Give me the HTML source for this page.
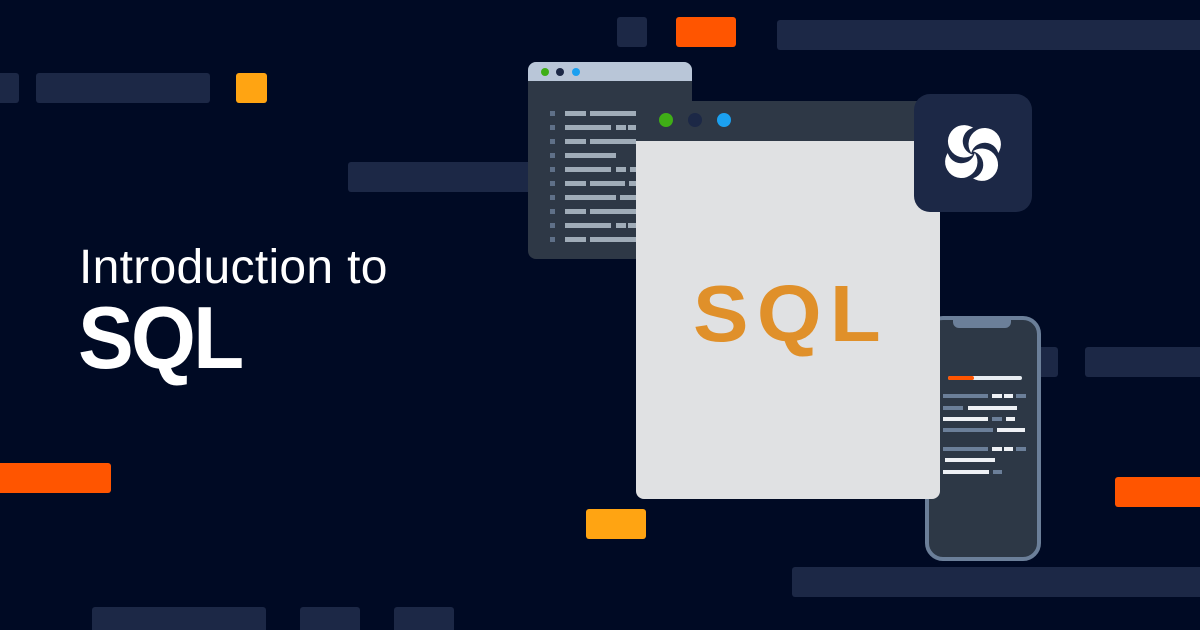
<!DOCTYPE html>
<html><head><meta charset="utf-8"><style>
*{margin:0;padding:0;box-sizing:border-box}
html,body{width:1200px;height:630px;overflow:hidden}
body{background:#000a24;position:relative;font-family:"Liberation Sans",sans-serif}
.b{position:absolute;border-radius:3px;background:#1c2846}
.o{background:#ff5500}.a{background:#ffa412}
.abs{position:absolute}
</style></head><body>
<div class="b" style="left:617px;top:17px;width:30px;height:30px"></div>
<div class="b o" style="left:676px;top:17px;width:60px;height:30px"></div>
<div class="b" style="left:777px;top:20px;width:430px;height:30px"></div>
<div class="b" style="left:-5px;top:73px;width:24px;height:30px"></div>
<div class="b" style="left:36px;top:73px;width:174px;height:30px"></div>
<div class="b a" style="left:236px;top:73px;width:31px;height:30px"></div>
<div class="b" style="left:348px;top:162px;width:190px;height:30px"></div>
<div class="b o" style="left:-5px;top:463px;width:116px;height:30px"></div>
<div class="b a" style="left:586px;top:509px;width:60px;height:30px"></div>
<div class="b" style="left:1030px;top:347px;width:28px;height:30px"></div>
<div class="b" style="left:1085px;top:347px;width:120px;height:30px"></div>
<div class="b o" style="left:1115px;top:477px;width:90px;height:30px"></div>
<div class="b" style="left:792px;top:567px;width:415px;height:30px"></div>
<div class="b" style="left:92px;top:607px;width:174px;height:30px"></div>
<div class="b" style="left:300px;top:607px;width:60px;height:30px"></div>
<div class="b" style="left:394px;top:607px;width:60px;height:30px"></div>

<div class="abs" style="left:79px;top:239px;color:#fff;font-size:48px;letter-spacing:0.3px;line-height:1.2">Introduction to</div>
<div class="abs" style="left:78px;top:294px;color:#fff;font-size:88px;font-weight:bold;letter-spacing:-3px;line-height:1;transform:scaleX(0.95);transform-origin:left">SQL</div>

<!-- code window -->
<div class="abs" style="left:528px;top:62px;width:164px;height:197px;background:#2e3846;border-radius:8px;overflow:hidden">
 <div style="height:19px;background:#b9c6d8"></div>
 <svg class="abs" style="left:0;top:0" width="164" height="197">
  <circle cx="17" cy="10" r="4" fill="#3fae16"/><circle cx="32" cy="10" r="4" fill="#1c2846"/><circle cx="48" cy="10" r="4" fill="#1ba0f0"/>
  <g fill="#a0acb8">
  <rect x="37" y="49" width="21" height="5"/><rect x="62" y="49" width="60" height="5"/>
  <rect x="37" y="63" width="46" height="5"/><rect x="88" y="63" width="10" height="5"/><rect x="100" y="63" width="20" height="5"/>
  <rect x="37" y="77" width="21" height="5"/><rect x="62" y="77" width="60" height="5"/>
  <rect x="37" y="91" width="51" height="5"/>
  <rect x="37" y="105" width="46" height="5"/><rect x="88" y="105" width="10" height="5"/><rect x="102" y="105" width="20" height="5"/>
  <rect x="37" y="119" width="21" height="5"/><rect x="62" y="119" width="35" height="5"/><rect x="101" y="119" width="20" height="5"/>
  <rect x="37" y="133" width="51" height="5"/><rect x="92" y="133" width="30" height="5"/>
  <rect x="37" y="147" width="21" height="5"/><rect x="62" y="147" width="60" height="5"/>
  <rect x="37" y="161" width="46" height="5"/><rect x="88" y="161" width="10" height="5"/><rect x="100" y="161" width="20" height="5"/>
  <rect x="37" y="175" width="21" height="5"/><rect x="62" y="175" width="60" height="5"/>
  </g>
  <g fill="#5f7088">
  <rect x="22" y="49" width="5" height="5"/><rect x="22" y="63" width="5" height="5"/><rect x="22" y="77" width="5" height="5"/><rect x="22" y="91" width="5" height="5"/><rect x="22" y="105" width="5" height="5"/><rect x="22" y="119" width="5" height="5"/><rect x="22" y="133" width="5" height="5"/><rect x="22" y="147" width="5" height="5"/><rect x="22" y="161" width="5" height="5"/><rect x="22" y="175" width="5" height="5"/>
  </g>
 </svg>
</div>

<!-- phone -->
<div class="abs" style="left:925px;top:316px;width:116px;height:245px;background:#2d3846;border:4px solid #6b7f99;border-radius:18px"></div>
<div class="abs" style="left:953px;top:318px;width:58px;height:10px;background:#6b7f99;border-radius:0 0 6px 6px"></div>
<svg class="abs" style="left:900px;top:310px" width="150" height="260">
 <rect x="48" y="66" width="74" height="4" fill="#e8edf2" rx="2"/><rect x="48" y="66" width="26" height="4" fill="#ff5500" rx="2"/>
 <g fill="#6b7f99"><rect x="43" y="84" width="45" height="4"/><rect x="116" y="84" width="10" height="4"/><rect x="43" y="96" width="20" height="4"/><rect x="92" y="107" width="10" height="4"/><rect x="43" y="118" width="50" height="4"/><rect x="43" y="137" width="45" height="4"/><rect x="116" y="137" width="10" height="4"/><rect x="93" y="160" width="9" height="4"/></g>
 <g fill="#eef1f5"><rect x="92" y="84" width="10" height="4"/><rect x="104" y="84" width="9" height="4"/><rect x="68" y="96" width="49" height="4"/><rect x="43" y="107" width="45" height="4"/><rect x="106" y="107" width="9" height="4"/><rect x="97" y="118" width="28" height="4"/><rect x="92" y="137" width="10" height="4"/><rect x="104" y="137" width="9" height="4"/><rect x="45" y="148" width="50" height="4"/><rect x="43" y="160" width="46" height="4"/></g>
</svg>

<!-- main window -->
<div class="abs" style="left:636px;top:101px;width:304px;height:398px;background:#e0e1e3;border-radius:0 0 8px 8px;overflow:hidden">
 <div style="height:40px;background:#2e3846;position:relative">
  <svg width="304" height="40"><circle cx="30" cy="19" r="7" fill="#3fae16"/><circle cx="59" cy="19" r="7" fill="#1c2846"/><circle cx="88" cy="19" r="7" fill="#1ba0f0"/></svg>
 </div>
 <div class="abs" style="left:57px;top:173px;color:#e0902a;font-size:80px;font-weight:bold;line-height:1;letter-spacing:8px;transform:scaleX(1.04);transform-origin:left">SQL</div>
</div>

<!-- logo -->
<div class="abs" style="left:914px;top:94px;width:118px;height:118px;background:#1c2846;border-radius:16px">
 <svg width="118" height="118" viewBox="0 0 118 118">
  <defs>
   <mask id="m" maskUnits="userSpaceOnUse" x="-40" y="-40" width="80" height="80">
    <rect x="-40" y="-40" width="80" height="80" fill="#fff"/>
    <circle cx="7" cy="-9" r="13" fill="#000"/>
   </mask>
  </defs>
  <g fill="#fff" transform="translate(59,59) rotate(-20) scale(1.08)">
   <circle id="c" cx="-4" cy="-13" r="15" mask="url(#m)"/>
   <use href="#c" transform="rotate(90)"/><use href="#c" transform="rotate(180)"/><use href="#c" transform="rotate(270)"/>
  </g>
 </svg>
</div>
</body></html>
